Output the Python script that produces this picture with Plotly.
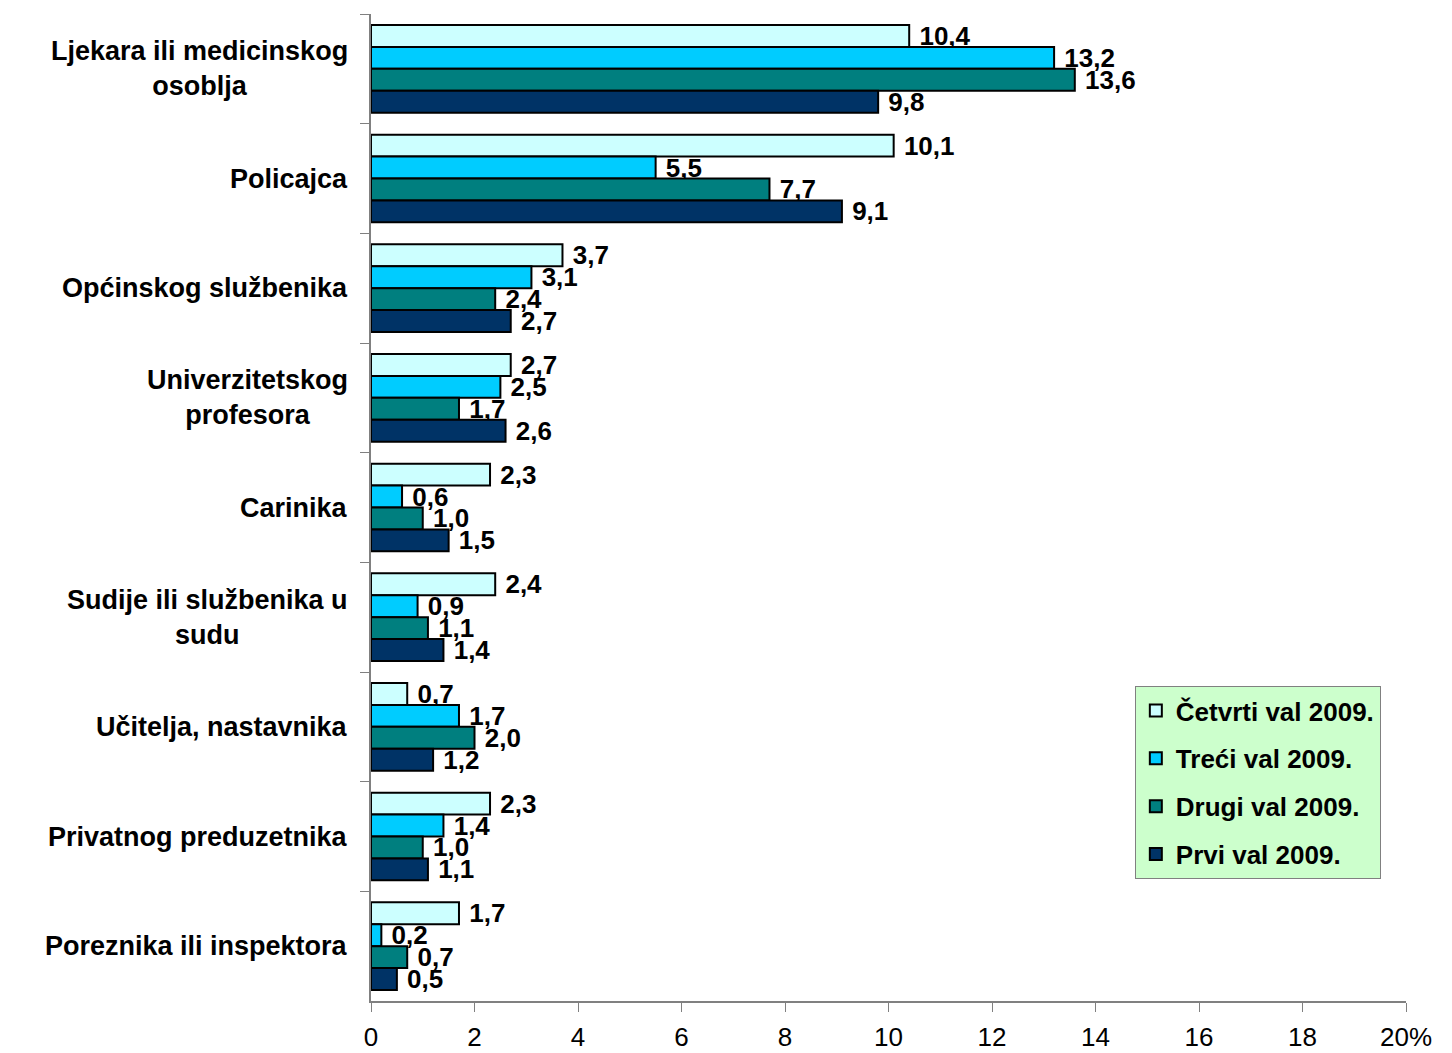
import plotly.graph_objects as go

categories = [
    "Ljekara ili medicinskog<br>osoblja",
    "Policajca",
    "Općinskog službenika",
    "Univerzitetskog<br>profesora",
    "Carinika",
    "Sudije ili službenika u<br>sudu",
    "Učitelja, nastavnika",
    "Privatnog preduzetnika",
    "Poreznika ili inspektora",
]
series_names = ["Četvrti val 2009.", "Treći val 2009.", "Drugi val 2009.", "Prvi val 2009."]
cetvrti = [10.4, 10.1, 3.7, 2.7, 2.3, 2.4, 0.7, 2.3, 1.7]
treci = [13.2, 5.5, 3.1, 2.5, 0.6, 0.9, 1.7, 1.4, 0.2]
drugi = [13.6, 7.7, 2.4, 1.7, 1.0, 1.1, 2.0, 1.0, 0.7]
prvi = [9.8, 9.1, 2.7, 2.6, 1.5, 1.4, 1.2, 1.1, 0.5]
x_ticks = [0, 2, 4, 6, 8, 10, 12, 14, 16, 18, 20]
x_ticktext = ["0", "2", "4", "6", "8", "10", "12", "14", "16", "18", "20%"]

colors = ["#CCFFFF", "#00CCFF", "#007F7F", "#003366"]
font = "Liberation Sans, Arial, sans-serif"

fig = go.Figure()
for i, (name, vals) in enumerate(zip(series_names, [cetvrti, treci, drugi, prvi])):
    fig.add_trace(go.Bar(
        y=categories, x=vals, name=name, orientation="h",
        marker=dict(color=colors[i], line=dict(color="black", width=2)),
        texttemplate="\u00a0%{x:.1f}", textposition="outside", constraintext="none",
        cliponaxis=False,
        textfont=dict(family=font, size=26, color="black", weight="bold"),
        legendgroup=name,
    ))

# category labels, centered per line
for cat in categories:
    fig.add_annotation(
        x=0, xref="paper", y=cat, yref="y", text=cat, showarrow=False,
        xanchor="right", xshift=-21, align="center",
        font=dict(family=font, size=27, color="black", weight="bold"),
    )

# page body has an 8px margin, so the figure is a bit smaller than the window
fig.update_layout(
    width=1436, height=1045,
    margin=dict(l=363, r=38, t=6, b=52),
    barmode="group", bargap=0.2, bargroupgap=0,
    plot_bgcolor="white", paper_bgcolor="white",
    separators=",.",
    showlegend=True,
    legend=dict(
        x=0.738, y=0.319, xanchor="left", yanchor="top",
        bgcolor="#CCFFCC", bordercolor="#808080", borderwidth=1,
        font=dict(family=font, size=26, color="black", weight="bold"),
        traceorder="grouped", tracegroupgap=11,
    ),
    xaxis=dict(
        range=[0, 20], tickvals=x_ticks, ticktext=x_ticktext,
        ticks="outside", ticklen=9, tickcolor="#808080",
        ticklabelstandoff=3, automargin=False,
        showline=True, linecolor="#808080", linewidth=1.5,
        showgrid=False, zeroline=False,
        tickfont=dict(family=font, size=26, color="black"),
    ),
    yaxis=dict(
        autorange="reversed", showticklabels=False, automargin=False,
        ticks="outside", tickson="boundaries", ticklen=9, tickcolor="#808080",
        showline=True, linecolor="#808080", linewidth=1.5,
        showgrid=False,
    ),
)

fig.write_html("out.html")
